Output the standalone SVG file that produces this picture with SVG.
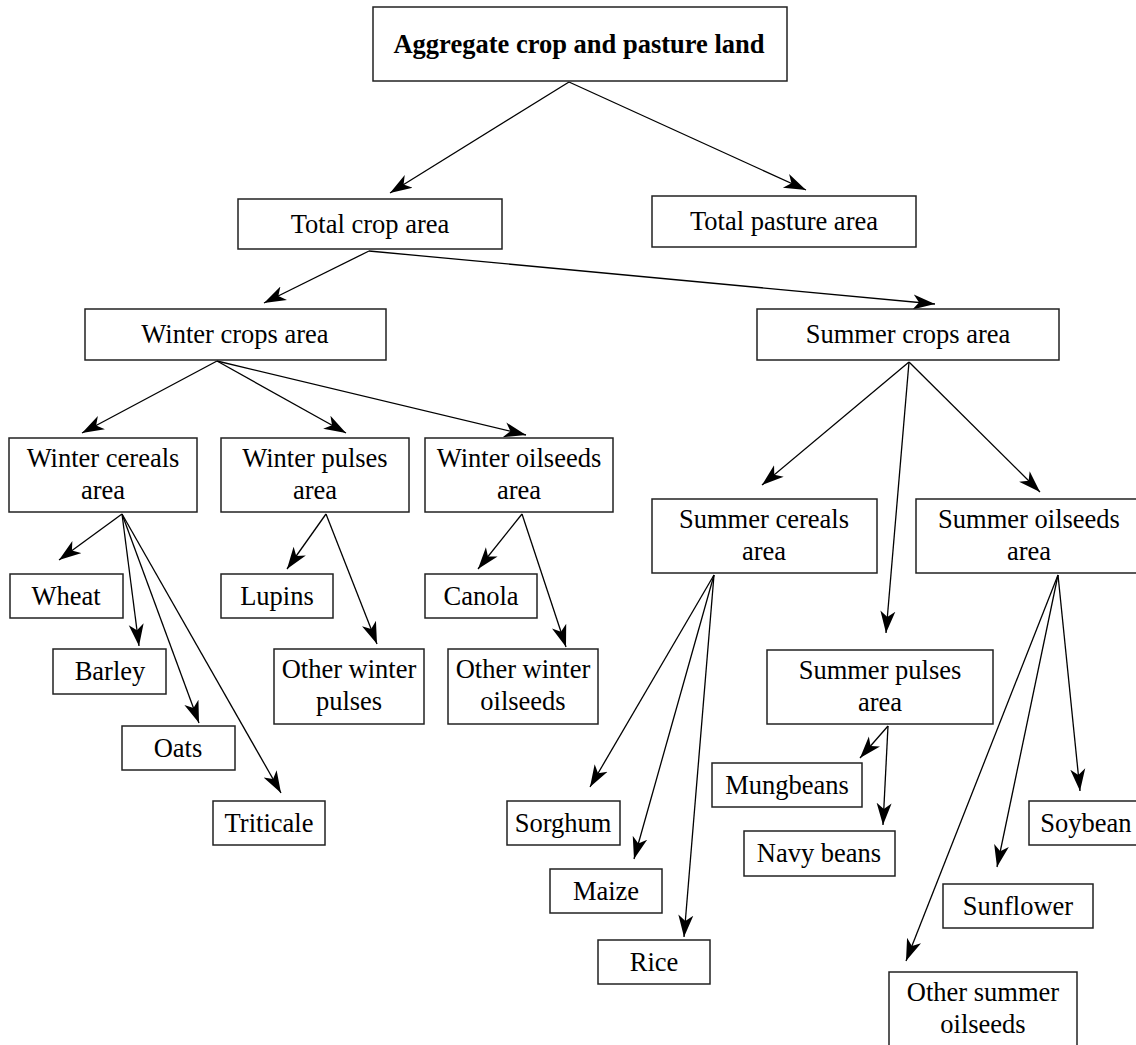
<svg xmlns="http://www.w3.org/2000/svg" width="1136" height="1045" viewBox="0 0 1136 1045">
<style>
  .box { fill: #fff; stroke: #222; stroke-width: 1.5; }
  .t { font-family: "Liberation Serif", "Times New Roman", Times, serif; font-size: 26.5px; fill: #000; text-anchor: middle; }
  .b { font-weight: bold; }
  .c line { stroke: #000; stroke-width: 1.3; marker-end: url(#ah); }
</style>
<defs>
  <marker id="ah" markerUnits="userSpaceOnUse" markerWidth="23" markerHeight="17" viewBox="0 0 23 17" refX="22" refY="8.5" orient="auto">
    <path d="M0,1 L22,8.5 L0,16 L6,8.5 Z" fill="#000"/>
  </marker>
</defs>
<rect width="1136" height="1045" fill="#fff"/>
<g class="c" id="connectors">
  <line x1="569" y1="82" x2="390" y2="193"/>
  <line x1="569" y1="82" x2="806" y2="190"/>
  <line x1="369" y1="251" x2="264" y2="303"/>
  <line x1="369" y1="251" x2="935" y2="304"/>
  <line x1="217" y1="361" x2="82" y2="433"/>
  <line x1="217" y1="361" x2="346" y2="433"/>
  <line x1="217" y1="361" x2="526" y2="435"/>
  <line x1="909" y1="362" x2="762" y2="485"/>
  <line x1="909" y1="362" x2="886" y2="633"/>
  <line x1="909" y1="362" x2="1040" y2="492"/>
  <line x1="122" y1="514" x2="59" y2="560"/>
  <line x1="122" y1="514" x2="139" y2="646"/>
  <line x1="122" y1="514" x2="199" y2="723"/>
  <line x1="122" y1="514" x2="281" y2="793"/>
  <line x1="326" y1="514" x2="287" y2="569"/>
  <line x1="326" y1="514" x2="377" y2="644"/>
  <line x1="522" y1="514" x2="478" y2="569"/>
  <line x1="522" y1="514" x2="566" y2="647"/>
  <line x1="714" y1="575" x2="590" y2="787"/>
  <line x1="714" y1="575" x2="634" y2="859"/>
  <line x1="714" y1="575" x2="684" y2="937"/>
  <line x1="888" y1="726" x2="860" y2="758"/>
  <line x1="888" y1="726" x2="883" y2="825"/>
  <line x1="1058" y1="575" x2="1080" y2="791"/>
  <line x1="1058" y1="575" x2="997" y2="867"/>
  <line x1="1058" y1="575" x2="906" y2="961"/>
</g>
<g id="n-aggregate"><rect class="box" x="373" y="7" width="414" height="74"/><text class="t b" x="579" y="53">Aggregate crop and pasture land</text></g>
<g id="n-totalcrop"><rect class="box" x="238" y="199" width="264" height="50"/><text class="t" x="370" y="233">Total crop area</text></g>
<g id="n-totalpasture"><rect class="box" x="652" y="196" width="264" height="51"/><text class="t" x="784" y="230">Total pasture area</text></g>
<g id="n-wintercrops"><rect class="box" x="85" y="309" width="301" height="51"/><text class="t" x="235" y="343">Winter crops area</text></g>
<g id="n-summercrops"><rect class="box" x="757" y="309" width="302" height="51"/><text class="t" x="908" y="343">Summer crops area</text></g>
<g id="n-wcereals"><rect class="box" x="9" y="438" width="188" height="74"/><text class="t" x="103" y="467">Winter cereals</text><text class="t" x="103" y="499">area</text></g>
<g id="n-wpulses"><rect class="box" x="221" y="438" width="188" height="74"/><text class="t" x="315" y="467">Winter pulses</text><text class="t" x="315" y="499">area</text></g>
<g id="n-woilseeds"><rect class="box" x="425" y="438" width="188" height="74"/><text class="t" x="519" y="467">Winter oilseeds</text><text class="t" x="519" y="499">area</text></g>
<g id="n-scereals"><rect class="box" x="652" y="499" width="225" height="74"/><text class="t" x="764" y="528">Summer cereals</text><text class="t" x="764" y="560">area</text></g>
<g id="n-soilseeds"><rect class="box" x="916" y="499" width="226" height="74"/><text class="t" x="1029" y="528">Summer oilseeds</text><text class="t" x="1029" y="560">area</text></g>
<g id="n-spulses"><rect class="box" x="767" y="650" width="226" height="74"/><text class="t" x="880" y="679">Summer pulses</text><text class="t" x="880" y="711">area</text></g>
<g id="n-wheat"><rect class="box" x="10" y="574" width="113" height="44"/><text class="t" x="66" y="605">Wheat</text></g>
<g id="n-barley"><rect class="box" x="53" y="649" width="113" height="45"/><text class="t" x="110" y="680">Barley</text></g>
<g id="n-oats"><rect class="box" x="122" y="726" width="113" height="44"/><text class="t" x="178" y="757">Oats</text></g>
<g id="n-triticale"><rect class="box" x="213" y="801" width="112" height="44"/><text class="t" x="269" y="832">Triticale</text></g>
<g id="n-lupins"><rect class="box" x="221" y="574" width="112" height="44"/><text class="t" x="277" y="605">Lupins</text></g>
<g id="n-owpulses"><rect class="box" x="274" y="649" width="150" height="75"/><text class="t" x="349" y="678">Other winter</text><text class="t" x="349" y="710">pulses</text></g>
<g id="n-canola"><rect class="box" x="425" y="574" width="112" height="44"/><text class="t" x="481" y="605">Canola</text></g>
<g id="n-owoilseeds"><rect class="box" x="448" y="649" width="150" height="75"/><text class="t" x="523" y="678">Other winter</text><text class="t" x="523" y="710">oilseeds</text></g>
<g id="n-sorghum"><rect class="box" x="507" y="801" width="113" height="44"/><text class="t" x="563" y="832">Sorghum</text></g>
<g id="n-maize"><rect class="box" x="550" y="869" width="112" height="44"/><text class="t" x="606" y="900">Maize</text></g>
<g id="n-rice"><rect class="box" x="598" y="940" width="112" height="44"/><text class="t" x="654" y="971">Rice</text></g>
<g id="n-mungbeans"><rect class="box" x="712" y="763" width="150" height="44"/><text class="t" x="787" y="794">Mungbeans</text></g>
<g id="n-navybeans"><rect class="box" x="744" y="831" width="151" height="45"/><text class="t" x="819" y="862">Navy beans</text></g>
<g id="n-soybean"><rect class="box" x="1029" y="801" width="113" height="44"/><text class="t" x="1086" y="832">Soybean</text></g>
<g id="n-sunflower"><rect class="box" x="943" y="884" width="150" height="44"/><text class="t" x="1018" y="915">Sunflower</text></g>
<g id="n-osoilseeds"><rect class="box" x="889" y="972" width="188" height="76"/><text class="t" x="983" y="1001">Other summer</text><text class="t" x="983" y="1033">oilseeds</text></g>
</svg>
